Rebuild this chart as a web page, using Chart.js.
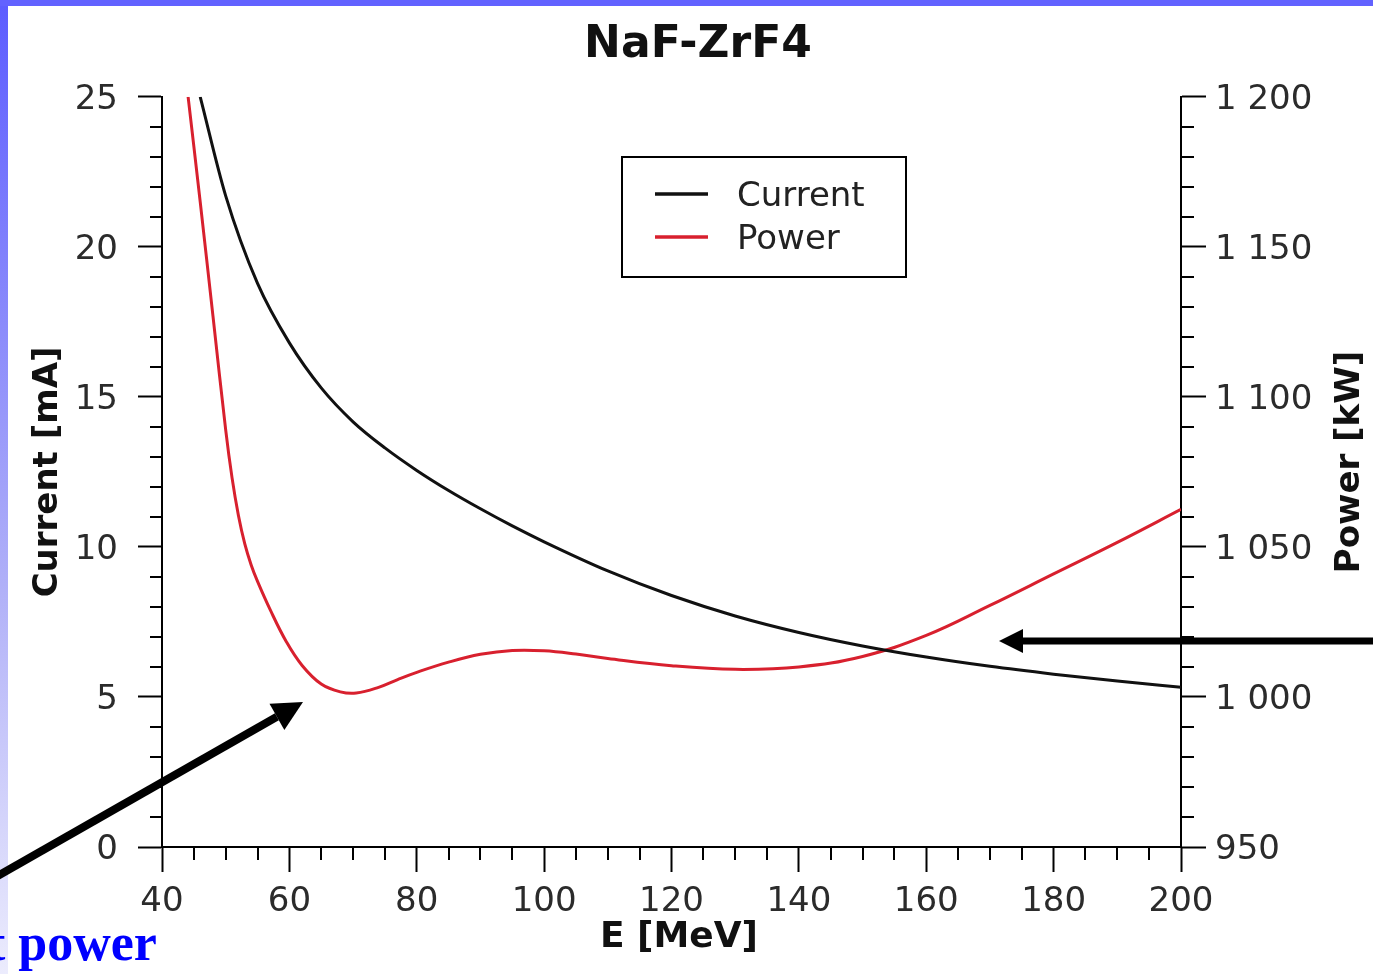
<!DOCTYPE html>
<html>
<head>
<meta charset="utf-8">
<title>NaF-ZrF4</title>
<script src="https://cdn.jsdelivr.net/npm/chart.js@4.4.0/dist/chart.umd.min.js"></script>
<style>
  html, body { margin: 0; padding: 0; background: #fff; overflow: hidden; }
  canvas { display: block; }
</style>
</head>
<body>
<canvas id="chart" width="1373" height="974"></canvas>
<script>
// beam energy [MeV] against current [mA] and power [kW]
const energyCurrent = [46, 50, 55, 60, 65, 70, 75, 80, 85, 90, 95, 100, 110, 120, 130, 140, 150, 160, 170, 180, 190, 200];
const current = [25.0, 21.7, 18.78, 16.8, 15.3, 14.17, 13.3, 12.55, 11.88, 11.27, 10.7, 10.17, 9.2, 8.38, 7.7, 7.15, 6.7, 6.33, 6.02, 5.76, 5.53, 5.32];

const energyPower = [44.1, 46, 48, 50, 51, 52, 53, 54, 55, 57, 59.5, 62, 65, 68, 70.5, 74, 77, 80, 85, 90, 95, 100, 105, 110, 120, 130, 140, 150, 160, 170, 180, 190, 200];
const power = [1200, 1165, 1127, 1089, 1073, 1060.5, 1051, 1044, 1038.5, 1029, 1018.5, 1010.5, 1004.3, 1001.7, 1001.3, 1003.2, 1005.8, 1008.2, 1011.6, 1014.2, 1015.5, 1015.4, 1014.3, 1012.8, 1010.4, 1009.2, 1010, 1013.5, 1020.5, 1030.5, 1041, 1051.5, 1062.5];

const seriesNames = ['Current', 'Power'];
const seriesColors = ['#111111', '#d8202e'];

const FONT = 'DejaVu Sans';
Chart.defaults.font.family = FONT;
Chart.defaults.color = '#2b2b2b';

function toPoints(xs, ys) {
  return xs.map((x, i) => ({ x: x, y: ys[i] }));
}

function kiloFormat(v) {
  if (v < 1000) return String(v);
  return Math.floor(v / 1000) + ' ' + String(v % 1000).padStart(3, '0');
}

const majorOnly = (step) => (c) => (c.tick && c.tick.value % step === 0) ? '#000' : 'rgba(0,0,0,0)';

// white page with the slide's blue edges
const slideBackground = {
  id: 'slideBackground',
  beforeDraw(chart) {
    const { ctx, width, height } = chart;
    ctx.save();
    ctx.fillStyle = '#fff';
    ctx.fillRect(0, 0, width, height);
    const g = ctx.createLinearGradient(0, 0, 0, height);
    g.addColorStop(0, '#5c5cff');
    g.addColorStop(0.6, '#b0b0f8');
    g.addColorStop(1, '#ececfd');
    ctx.fillStyle = g;
    ctx.fillRect(0, 0, 8, height);
    ctx.fillStyle = '#6262ff';
    ctx.fillRect(0, 0, width, 6);
    ctx.restore();
  }
};

// short minor ticks between the labelled ones
const minorTicks = {
  id: 'minorTicks',
  afterDraw(chart) {
    const { ctx, chartArea, scales } = chart;
    ctx.save();
    ctx.strokeStyle = '#000';
    ctx.lineWidth = 2;
    ctx.beginPath();
    scales.x.ticks.forEach(t => {
      if (t.value % 20 === 0) return;
      const px = Math.round(scales.x.getPixelForValue(t.value));
      ctx.moveTo(px, chartArea.bottom);
      ctx.lineTo(px, chartArea.bottom + 13);
    });
    scales.y.ticks.forEach(t => {
      if (t.value % 5 === 0) return;
      const py = Math.round(scales.y.getPixelForValue(t.value));
      ctx.moveTo(chartArea.left, py);
      ctx.lineTo(chartArea.left - 12, py);
    });
    scales.y2.ticks.forEach(t => {
      if (t.value % 50 === 0) return;
      const py = Math.round(scales.y2.getPixelForValue(t.value));
      ctx.moveTo(chartArea.right, py);
      ctx.lineTo(chartArea.right + 13, py);
    });
    ctx.stroke();
    ctx.restore();
  }
};

// boxed legend inside the plot
const boxLegend = {
  id: 'boxLegend',
  afterDatasetsDraw(chart) {
    const ctx = chart.ctx;
    ctx.save();
    ctx.fillStyle = '#fff';
    ctx.fillRect(622, 157, 284, 120);
    ctx.strokeStyle = '#000';
    ctx.lineWidth = 2;
    ctx.strokeRect(622, 157, 284, 120);
    ctx.font = '34px ' + FONT;
    ctx.textBaseline = 'middle';
    chart.data.datasets.forEach((ds, i) => {
      const y = 197 + i * 43;
      ctx.strokeStyle = ds.borderColor;
      ctx.lineWidth = 3.5;
      ctx.beginPath();
      ctx.moveTo(655, y - 3);
      ctx.lineTo(708, y - 3);
      ctx.stroke();
      ctx.fillStyle = '#222';
      ctx.fillText(ds.label, 737, y);
    });
    ctx.restore();
  }
};

function arrow(ctx, x0, y0, x1, y1, w, len, half) {
  const a = Math.atan2(y1 - y0, x1 - x0);
  const bx = x1 - len * Math.cos(a), by = y1 - len * Math.sin(a);
  ctx.lineWidth = w;
  ctx.beginPath();
  ctx.moveTo(x0, y0);
  ctx.lineTo(bx, by);
  ctx.stroke();
  ctx.beginPath();
  ctx.moveTo(x1, y1);
  ctx.lineTo(bx + half * Math.sin(a), by - half * Math.cos(a));
  ctx.lineTo(bx - half * Math.sin(a), by + half * Math.cos(a));
  ctx.closePath();
  ctx.fill();
}

// axis titles that Chart.js would place differently, arrows, caption
const annotations = {
  id: 'annotations',
  afterDraw(chart) {
    const ctx = chart.ctx;
    ctx.save();
    ctx.fillStyle = '#111';
    ctx.textAlign = 'center';
    ctx.textBaseline = 'middle';
    ctx.font = 'bold 36px ' + FONT;
    ctx.fillText('E [MeV]', 679, 938);
    ctx.font = 'bold 34px ' + FONT;
    ctx.translate(1350, 462);
    ctx.rotate(-Math.PI / 2);
    ctx.fillText('Power [kW]', 0, 0);
    ctx.restore();

    ctx.save();
    ctx.strokeStyle = '#000';
    ctx.fillStyle = '#000';
    arrow(ctx, -6, 878, 303, 702, 8, 30, 15);
    arrow(ctx, 1380, 641, 999, 641, 7, 24, 12);
    ctx.fillStyle = '#0000ff';
    ctx.font = 'bold 52px "Liberation Serif"';
    ctx.textBaseline = 'alphabetic';
    ctx.fillText('t power', -12, 960);
    ctx.restore();
  }
};

new Chart(document.getElementById('chart'), {
  type: 'line',
  data: {
    datasets: [
      {
        label: seriesNames[0],
        data: toPoints(energyCurrent, current),
        yAxisID: 'y',
        borderColor: seriesColors[0],
        borderWidth: 3,
        pointRadius: 0,
        cubicInterpolationMode: 'monotone'
      },
      {
        label: seriesNames[1],
        data: toPoints(energyPower, power),
        yAxisID: 'y2',
        borderColor: seriesColors[1],
        borderWidth: 3,
        pointRadius: 0,
        tension: 0.4
      }
    ]
  },
  options: {
    responsive: false,
    devicePixelRatio: 1,
    animation: false,
    layout: { padding: { left: 23, right: 0, top: 0, bottom: 0 } },
    plugins: {
      legend: { display: false },
      tooltip: { enabled: false },
      title: {
        display: true,
        text: 'NaF-ZrF4',
        color: '#111',
        font: { size: 44, weight: 'bold' },
        padding: { top: 19, bottom: 25 }
      }
    },
    scales: {
      x: {
        type: 'linear',
        min: 40,
        max: 200,
        border: { display: true, color: '#000', width: 2 },
        grid: { drawOnChartArea: false, drawTicks: true, tickLength: 25, tickWidth: 2, tickColor: majorOnly(20) },
        ticks: { stepSize: 5, autoSkip: false, maxRotation: 0, padding: 10, font: { size: 34 }, callback: v => v % 20 === 0 ? v : '' },
        title: { display: false },
        afterFit: s => { s.height = 127; }
      },
      y: {
        position: 'left',
        min: 0,
        max: 25,
        border: { display: true, color: '#000', width: 2 },
        grid: { drawOnChartArea: false, drawTicks: true, tickLength: 24, tickWidth: 2, tickColor: majorOnly(5) },
        ticks: { stepSize: 1, autoSkip: false, padding: 20, labelOffset: 3, font: { size: 34 }, callback: v => v % 5 === 0 ? v : '' },
        title: { display: true, text: 'Current [mA]', color: '#111', font: { size: 34, weight: 'bold' }, padding: { top: 5, bottom: 0 } },
        afterFit: s => { s.width = 139; }
      },
      y2: {
        position: 'right',
        min: 950,
        max: 1200,
        border: { display: true, color: '#000', width: 2 },
        grid: { drawOnChartArea: false, drawTicks: true, tickLength: 25, tickWidth: 2, tickColor: majorOnly(50) },
        ticks: { stepSize: 10, autoSkip: false, padding: 9, labelOffset: 3, font: { size: 34 }, callback: v => v % 50 === 0 ? kiloFormat(v) : '' },
        title: { display: false },
        afterFit: s => { s.width = 192; }
      }
    }
  },
  plugins: [slideBackground, minorTicks, boxLegend, annotations]
});
</script>
</body>
</html>
